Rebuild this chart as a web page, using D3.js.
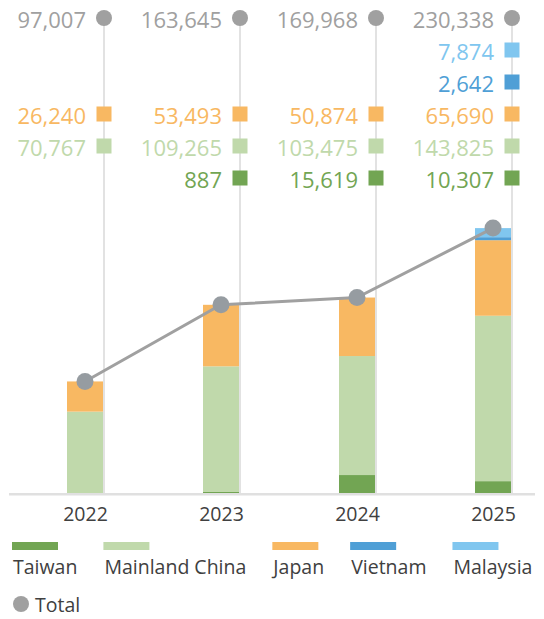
<!DOCTYPE html>
<html>
<head>
<meta charset="utf-8">
<script src="https://cdn.jsdelivr.net/npm/d3@7"></script>
<style>
  body { margin: 0; background: #fff; }
  svg { display: block; font-family: "Open Sans", "Noto Sans", sans-serif; }
</style>
</head>
<body>
<svg id="chart" width="544" height="619"></svg>
<script>
// values
var years    = ["2022", "2023", "2024", "2025"];
var taiwan   = [0, 887, 15619, 10307];
var mainland = [70767, 109265, 103475, 143825];
var japan    = [26240, 53493, 50874, 65690];
var vietnam  = [0, 0, 0, 2642];
var malaysia = [0, 0, 0, 7874];
var total    = [97007, 163645, 169968, 230338];

var seriesNames  = ["Taiwan", "Mainland China", "Japan", "Vietnam", "Malaysia"];
var seriesValues = [taiwan, mainland, japan, vietnam, malaysia];
var seriesColors = ["#72a553", "#c0d9ab", "#f8b862", "#4f9fd6", "#80c6ef"];
// order of the value rows at the top, from top to bottom
var labelRows = ["Total", "Malaysia", "Vietnam", "Japan", "Mainland China", "Taiwan"];

var svg = d3.select("#chart");
var baseY = 493;

var x = d3.scalePoint().domain(years).range([85, 493]);
var y = d3.scaleLinear().domain([0, 250000]).range([baseY, baseY - 287.5]);
var rowY = d3.scalePoint().domain(labelRows).range([18, 178]);
var barW = 36;
var lineX = function (yr) { return x(yr) + barW / 2 + 1; };

var table = years.map(function (yr, i) {
	var row = { year: yr, Total: total[i] };
	seriesNames.forEach(function (s, j) { row[s] = seriesValues[j][i]; });
	return row;
});
var stacked = d3.stack().keys(seriesNames)(table);

// thin drop lines from the labels down to the axis
svg.append("g").selectAll("line")
	.data(years)
	.join("line")
	.attr("x1", lineX).attr("x2", lineX)
	.attr("y1", rowY("Total")).attr("y2", baseY)
	.attr("stroke", "#d9d9d9")
	.attr("stroke-width", 1.5);

// stacked bars
svg.append("g").selectAll("g")
	.data(stacked)
	.join("g")
	.attr("fill", function (d, i) { return seriesColors[i]; })
	.selectAll("rect")
	.data(function (d) { return d; })
	.join("rect")
	.attr("x", function (d) { return x(d.data.year) - barW / 2; })
	.attr("width", barW)
	.attr("y", function (d) { return y(d[1]); })
	.attr("height", function (d) { return y(d[0]) - y(d[1]); });

// axis baseline
svg.append("line")
	.attr("x1", 9).attr("x2", 535)
	.attr("y1", baseY + 1.3).attr("y2", baseY + 1.3)
	.attr("stroke", "#e0e0e0")
	.attr("stroke-width", 2.6);

var xAxis = svg.append("g")
	.attr("transform", "translate(0," + (baseY + 28) + ")")
	.call(d3.axisBottom(x).tickSize(0).tickPadding(0));
xAxis.select(".domain").remove();
xAxis.selectAll("text")
	.attr("dy", 0)
	.attr("y", 0)
	.attr("font-family", "Open Sans, Noto Sans, sans-serif")
	.attr("font-size", 19.5)
	.attr("fill", "#404040");

// total line + dots
svg.append("path")
	.datum(years)
	.attr("fill", "none")
	.attr("stroke", "#a0a0a0")
	.attr("stroke-width", 3)
	.attr("d", d3.line()
		.x(function (d) { return x(d); })
		.y(function (d, i) { return y(total[i]); }));

svg.append("g").selectAll("circle")
	.data(years)
	.join("circle")
	.attr("cx", function (d) { return x(d); })
	.attr("cy", function (d, i) { return y(total[i]); })
	.attr("r", 8.5)
	.attr("fill", "#969ca1");

// value rows at the top
var fmt = d3.format(",");
var rowColor = { Total: "#a0a0a0" };
seriesNames.forEach(function (s, j) { rowColor[s] = seriesColors[j]; });

var labels = [];
years.forEach(function (yr, i) {
	labelRows.forEach(function (r) {
		var v = table[i][r];
		if (v > 0) labels.push({ year: yr, row: r, value: v });
	});
});

var lab = svg.append("g").selectAll("g")
	.data(labels)
	.join("g")
	.attr("transform", function (d) { return "translate(" + lineX(d.year) + "," + rowY(d.row) + ")"; });

lab.filter(function (d) { return d.row === "Total"; })
	.append("circle")
	.attr("r", 8)
	.attr("fill", "#a0a0a0");

lab.filter(function (d) { return d.row !== "Total"; })
	.append("rect")
	.attr("x", -7.5).attr("y", -7.5)
	.attr("width", 15).attr("height", 15)
	.attr("fill", function (d) { return rowColor[d.row]; });

lab.append("text")
	.attr("x", -18)
	.attr("y", 9.5)
	.attr("text-anchor", "end")
	.attr("font-size", 22)
	.attr("fill", function (d) { return rowColor[d.row]; })
	.text(function (d) { return fmt(d.value); });

// legend
var legend = svg.append("g");
var lx = 12;
seriesNames.forEach(function (s, j) {
	var item = legend.append("g").attr("transform", "translate(" + lx + ",0)");
	item.append("rect")
		.attr("x", 0).attr("y", 542)
		.attr("width", 46).attr("height", 8)
		.attr("fill", seriesColors[j]);
	var t = item.append("text")
		.attr("x", 1).attr("y", 574)
		.attr("font-size", 19.5)
		.attr("fill", "#404040")
		.text(s);
	var w = Math.max(46, t.node().getComputedTextLength());
	lx += w + 27;
});

var tot = legend.append("g");
tot.append("circle")
	.attr("cx", 21).attr("cy", 604)
	.attr("r", 8)
	.attr("fill", "#a0a0a0");
tot.append("text")
	.attr("x", 35).attr("y", 612)
	.attr("font-size", 19.5)
	.attr("fill", "#404040")
	.text("Total");
</script>
</body>
</html>
